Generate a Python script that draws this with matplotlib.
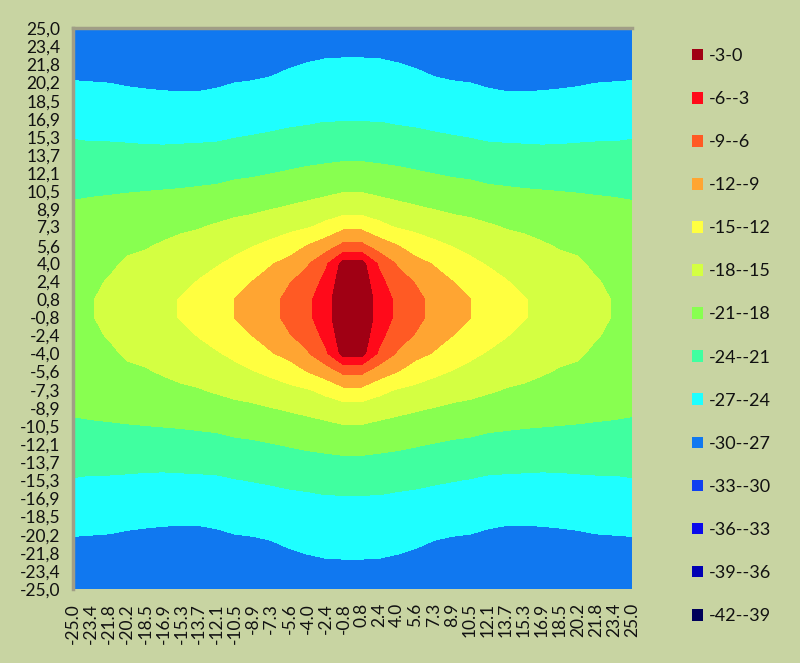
import numpy as np
import matplotlib
matplotlib.use('Agg')
import matplotlib.pyplot as plt
from matplotlib.patches import Patch

plt.rcParams['font.family'] = ['Lato', 'DejaVu Sans']

# grid positions / tick labels (same for both axes)
grid_labels = ['-25.0', '-23.4', '-21.8', '-20.2', '-18.5', '-16.9', '-15.3', '-13.7',
               '-12.1', '-10.5', '-8.9', '-7.3', '-5.6', '-4.0', '-2.4', '-0.8',
               '0.8', '2.4', '4.0', '5.6', '7.3', '8.9', '10.5', '12.1',
               '13.7', '15.3', '16.9', '18.5', '20.2', '21.8', '23.4', '25.0']

# contour bands, low to high
band_levels = [-42, -39, -36, -33, -30, -27, -24, -21, -18, -15, -12, -9, -6, -3, 0]
band_colors = ['#00005A', '#0000B4', '#0A0AEB', '#1040F0', '#1078F0', '#1EFFFF', '#40FFA0',
               '#88FF50', '#D4FF42', '#FFFF40', '#FFA532', '#FF5A24', '#FF0A1A', '#A00014']

# surface values, rows from y=25 (top) down to y=-25, columns x=-25 .. 25
z_rows = """
-29.0 -29.0 -29.1 -29.2 -29.3 -29.4 -29.5 -29.4 -29.3 -29.1 -29.0 -28.8 -28.6 -28.4 -28.2 -28.0 -28.0 -28.2 -28.4 -28.6 -28.8 -29.0 -29.1 -29.3 -29.4 -29.5 -29.4 -29.3 -29.2 -29.1 -29.0 -29.0
-28.4 -28.4 -28.5 -28.6 -28.7 -28.8 -28.9 -28.8 -28.7 -28.5 -28.4 -28.2 -27.9 -27.7 -27.5 -27.4 -27.4 -27.5 -27.7 -27.9 -28.2 -28.4 -28.5 -28.7 -28.8 -28.9 -28.8 -28.7 -28.6 -28.5 -28.4 -28.4
-27.7 -27.75 -27.8 -27.9 -28.0 -28.1 -28.2 -28.1 -28.0 -27.8 -27.7 -27.5 -27.2 -26.95 -26.8 -26.8 -26.8 -26.8 -26.95 -27.2 -27.5 -27.7 -27.8 -28.0 -28.1 -28.2 -28.1 -28.0 -27.9 -27.8 -27.75 -27.7
-26.95 -27.0 -27.05 -27.2 -27.3 -27.35 -27.45 -27.4 -27.3 -27.05 -26.95 -26.8 -26.4 -26.1 -25.9 -25.9 -25.9 -25.9 -26.1 -26.4 -26.8 -26.95 -27.05 -27.3 -27.4 -27.45 -27.35 -27.3 -27.2 -27.05 -27.0 -26.95
-26.1 -26.2 -26.3 -26.4 -26.5 -26.6 -26.6 -26.6 -26.4 -26.1 -26.0 -25.8 -25.5 -25.3 -25.1 -25.0 -25.0 -25.1 -25.3 -25.5 -25.8 -26.0 -26.1 -26.4 -26.6 -26.6 -26.6 -26.5 -26.4 -26.3 -26.2 -26.1
-25.1 -25.2 -25.3 -25.4 -25.6 -25.7 -25.7 -25.6 -25.5 -25.2 -25.0 -24.8 -24.6 -24.4 -24.2 -24.2 -24.2 -24.2 -24.4 -24.6 -24.8 -25.0 -25.2 -25.5 -25.6 -25.7 -25.7 -25.6 -25.4 -25.3 -25.2 -25.1
-24.1 -24.2 -24.2 -24.3 -24.5 -24.6 -24.55 -24.5 -24.4 -24.1 -23.9 -23.7 -23.4 -23.3 -23.1 -23.0 -23.0 -23.1 -23.3 -23.4 -23.7 -23.9 -24.1 -24.4 -24.5 -24.55 -24.6 -24.5 -24.3 -24.2 -24.2 -24.1
-23.4 -23.5 -23.5 -23.45 -23.35 -23.3 -23.2 -23.1 -23.05 -22.8 -22.6 -22.4 -22.1 -21.9 -21.7 -21.5 -21.5 -21.7 -21.9 -22.1 -22.4 -22.6 -22.8 -23.05 -23.1 -23.2 -23.3 -23.35 -23.45 -23.5 -23.5 -23.4
-22.4 -22.5 -22.5 -22.4 -22.3 -22.2 -22.1 -21.95 -21.9 -21.6 -21.4 -21.1 -20.8 -20.5 -20.3 -20.2 -20.2 -20.3 -20.5 -20.8 -21.1 -21.4 -21.6 -21.9 -21.95 -22.1 -22.2 -22.3 -22.4 -22.5 -22.5 -22.4
-21.35 -21.3 -21.25 -21.15 -21.05 -20.95 -20.85 -20.7 -20.5 -20.1 -19.9 -19.6 -19.2 -18.8 -18.6 -18.2 -18.2 -18.6 -18.8 -19.2 -19.6 -19.9 -20.1 -20.5 -20.7 -20.85 -20.95 -21.05 -21.15 -21.25 -21.3 -21.35
-20.7 -20.5 -20.3 -20.1 -20.0 -19.7 -19.5 -19.4 -19.2 -18.7 -18.5 -18.1 -17.7 -17.4 -16.8 -16.3 -16.3 -16.8 -17.4 -17.7 -18.1 -18.5 -18.7 -19.2 -19.4 -19.5 -19.7 -20.0 -20.1 -20.3 -20.5 -20.7
-20.2 -19.8 -19.5 -19.1 -18.9 -18.6 -18.3 -18.15 -17.7 -17.3 -16.9 -16.3 -15.75 -15.3 -14.2 -12.8 -12.8 -14.2 -15.3 -15.75 -16.3 -16.9 -17.3 -17.7 -18.15 -18.3 -18.6 -18.9 -19.1 -19.5 -19.8 -20.2
-19.7 -19.2 -18.8 -18.3 -18.15 -17.8 -17.5 -17.05 -16.5 -15.8 -15.1 -14.4 -13.4 -11.9 -10.5 -8.3 -8.3 -10.5 -11.9 -13.4 -14.4 -15.1 -15.8 -16.5 -17.05 -17.5 -17.8 -18.15 -18.3 -18.8 -19.2 -19.7
-19.3 -18.7 -18.3 -17.8 -17.5 -17.05 -16.6 -15.95 -15.2 -14.4 -13.5 -12.2 -11.1 -9.2 -6.6 -1.9 -1.9 -6.6 -9.2 -11.1 -12.2 -13.5 -14.4 -15.2 -15.95 -16.6 -17.05 -17.5 -17.8 -18.3 -18.7 -19.3
-19.0 -18.3 -17.9 -17.4 -16.9 -16.3 -15.75 -14.85 -14.0 -13.1 -11.95 -10.9 -9.1 -8.2 -5.0 -1.4 -1.4 -5.0 -8.2 -9.1 -10.9 -11.95 -13.1 -14.0 -14.85 -15.75 -16.3 -16.9 -17.4 -17.9 -18.3 -19.0
-18.8 -18.1 -17.6 -17.0 -16.3 -15.6 -14.85 -13.7 -12.8 -11.95 -10.9 -9.6 -8.4 -6.7 -4.1 -1.0 -1.0 -4.1 -6.7 -8.4 -9.6 -10.9 -11.95 -12.8 -13.7 -14.85 -15.6 -16.3 -17.0 -17.6 -18.1 -18.8
-18.8 -18.1 -17.6 -17.0 -16.3 -15.6 -14.85 -13.7 -12.8 -11.95 -10.9 -9.6 -8.4 -6.7 -4.1 -1.0 -1.0 -4.1 -6.7 -8.4 -9.6 -10.9 -11.95 -12.8 -13.7 -14.85 -15.6 -16.3 -17.0 -17.6 -18.1 -18.8
-19.0 -18.3 -17.9 -17.4 -16.9 -16.3 -15.75 -14.85 -14.0 -13.1 -11.95 -10.9 -9.1 -8.2 -5.0 -1.4 -1.4 -5.0 -8.2 -9.1 -10.9 -11.95 -13.1 -14.0 -14.85 -15.75 -16.3 -16.9 -17.4 -17.9 -18.3 -19.0
-19.3 -18.7 -18.3 -17.8 -17.5 -17.05 -16.6 -15.95 -15.2 -14.4 -13.5 -12.2 -11.1 -9.2 -6.6 -1.9 -1.9 -6.6 -9.2 -11.1 -12.2 -13.5 -14.4 -15.2 -15.95 -16.6 -17.05 -17.5 -17.8 -18.3 -18.7 -19.3
-19.7 -19.2 -18.8 -18.3 -18.15 -17.8 -17.5 -17.05 -16.5 -15.8 -15.1 -14.4 -13.4 -11.9 -10.5 -8.3 -8.3 -10.5 -11.9 -13.4 -14.4 -15.1 -15.8 -16.5 -17.05 -17.5 -17.8 -18.15 -18.3 -18.8 -19.2 -19.7
-20.2 -19.8 -19.5 -19.1 -18.9 -18.6 -18.3 -18.15 -17.7 -17.3 -16.9 -16.3 -15.75 -15.3 -14.2 -12.8 -12.8 -14.2 -15.3 -15.75 -16.3 -16.9 -17.3 -17.7 -18.15 -18.3 -18.6 -18.9 -19.1 -19.5 -19.8 -20.2
-20.7 -20.5 -20.3 -20.1 -20.0 -19.7 -19.5 -19.4 -19.2 -18.7 -18.5 -18.1 -17.7 -17.4 -16.8 -16.3 -16.3 -16.8 -17.4 -17.7 -18.1 -18.5 -18.7 -19.2 -19.4 -19.5 -19.7 -20.0 -20.1 -20.3 -20.5 -20.7
-21.35 -21.3 -21.25 -21.15 -21.05 -20.95 -20.85 -20.7 -20.5 -20.1 -19.9 -19.6 -19.2 -18.8 -18.6 -18.2 -18.2 -18.6 -18.8 -19.2 -19.6 -19.9 -20.1 -20.5 -20.7 -20.85 -20.95 -21.05 -21.15 -21.25 -21.3 -21.35
-22.4 -22.5 -22.5 -22.4 -22.3 -22.2 -22.1 -21.95 -21.9 -21.6 -21.4 -21.1 -20.8 -20.5 -20.3 -20.2 -20.2 -20.3 -20.5 -20.8 -21.1 -21.4 -21.6 -21.9 -21.95 -22.1 -22.2 -22.3 -22.4 -22.5 -22.5 -22.4
-23.4 -23.5 -23.5 -23.45 -23.35 -23.3 -23.2 -23.1 -23.05 -22.8 -22.6 -22.4 -22.1 -21.9 -21.7 -21.5 -21.5 -21.7 -21.9 -22.1 -22.4 -22.6 -22.8 -23.05 -23.1 -23.2 -23.3 -23.35 -23.45 -23.5 -23.5 -23.4
-24.1 -24.2 -24.2 -24.3 -24.5 -24.6 -24.55 -24.5 -24.4 -24.1 -23.9 -23.7 -23.4 -23.3 -23.1 -23.0 -23.0 -23.1 -23.3 -23.4 -23.7 -23.9 -24.1 -24.4 -24.5 -24.55 -24.6 -24.5 -24.3 -24.2 -24.2 -24.1
-25.1 -25.2 -25.3 -25.4 -25.6 -25.7 -25.7 -25.6 -25.5 -25.2 -25.0 -24.8 -24.6 -24.4 -24.2 -24.2 -24.2 -24.2 -24.4 -24.6 -24.8 -25.0 -25.2 -25.5 -25.6 -25.7 -25.7 -25.6 -25.4 -25.3 -25.2 -25.1
-26.1 -26.2 -26.3 -26.4 -26.5 -26.6 -26.6 -26.6 -26.4 -26.1 -26.0 -25.8 -25.5 -25.3 -25.1 -25.0 -25.0 -25.1 -25.3 -25.5 -25.8 -26.0 -26.1 -26.4 -26.6 -26.6 -26.6 -26.5 -26.4 -26.3 -26.2 -26.1
-26.95 -27.0 -27.05 -27.2 -27.3 -27.35 -27.45 -27.4 -27.3 -27.05 -26.95 -26.8 -26.4 -26.1 -25.9 -25.9 -25.9 -25.9 -26.1 -26.4 -26.8 -26.95 -27.05 -27.3 -27.4 -27.45 -27.35 -27.3 -27.2 -27.05 -27.0 -26.95
-27.7 -27.75 -27.8 -27.9 -28.0 -28.1 -28.2 -28.1 -28.0 -27.8 -27.7 -27.5 -27.2 -26.95 -26.8 -26.8 -26.8 -26.8 -26.95 -27.2 -27.5 -27.7 -27.8 -28.0 -28.1 -28.2 -28.1 -28.0 -27.9 -27.8 -27.75 -27.7
-28.4 -28.4 -28.5 -28.6 -28.7 -28.8 -28.9 -28.8 -28.7 -28.5 -28.4 -28.2 -27.9 -27.7 -27.5 -27.4 -27.4 -27.5 -27.7 -27.9 -28.2 -28.4 -28.5 -28.7 -28.8 -28.9 -28.8 -28.7 -28.6 -28.5 -28.4 -28.4
-29.0 -29.0 -29.1 -29.2 -29.3 -29.4 -29.5 -29.4 -29.3 -29.1 -29.0 -28.8 -28.6 -28.4 -28.2 -28.0 -28.0 -28.2 -28.4 -28.6 -28.8 -29.0 -29.1 -29.3 -29.4 -29.5 -29.4 -29.3 -29.2 -29.1 -29.0 -29.0
"""

z = np.array([[float(v) for v in line.split()] for line in z_rows.strip().splitlines()])
x_vals = [float(s) for s in grid_labels]
y_vals = x_vals[::-1]  # rows are written top-down

bg = '#C8D4A2'
fig = plt.figure(figsize=(8, 6.63), dpi=100, facecolor=bg)
ax = fig.add_axes([73 / 800, 1 - 589 / 663, 559 / 800, 561 / 663])

ax.contourf(x_vals, y_vals, z, levels=band_levels, colors=band_colors)
ax.set_xlim(-25, 25)
ax.set_ylim(-25, 25)

ax.set_xticks(x_vals)
ax.set_xticklabels(grid_labels, rotation=90)
ax.set_yticks(x_vals)
ax.set_yticklabels([s.replace('.', ',') for s in grid_labels])
ax.tick_params(axis='both', length=0, labelsize=12.5, labelcolor='#111111')
ax.tick_params(axis='y', pad=9)
ax.tick_params(axis='x', pad=10)

for side in ['right', 'bottom']:
    ax.spines[side].set_visible(False)
for side in ['left', 'top']:
    ax.spines[side].set_color('#A09E86')
    ax.spines[side].set_linewidth(2.5)

# legend, highest band first
handles = []
labels = []
for i in range(len(band_colors) - 1, -1, -1):
    handles.append(Patch(facecolor=band_colors[i], edgecolor='none'))
    labels.append('%d-%d' % (band_levels[i], band_levels[i + 1]))

fig.legend(handles, labels, loc='upper left', bbox_to_anchor=(692 / 800, 1 - 48 / 663),
           frameon=False, fontsize=13, borderpad=0, borderaxespad=0,
           handlelength=0.62, handleheight=0.62, handletextpad=0.3, labelspacing=1.5,
           labelcolor='#111111')

fig.savefig('out.png', dpi=100, facecolor=bg)
